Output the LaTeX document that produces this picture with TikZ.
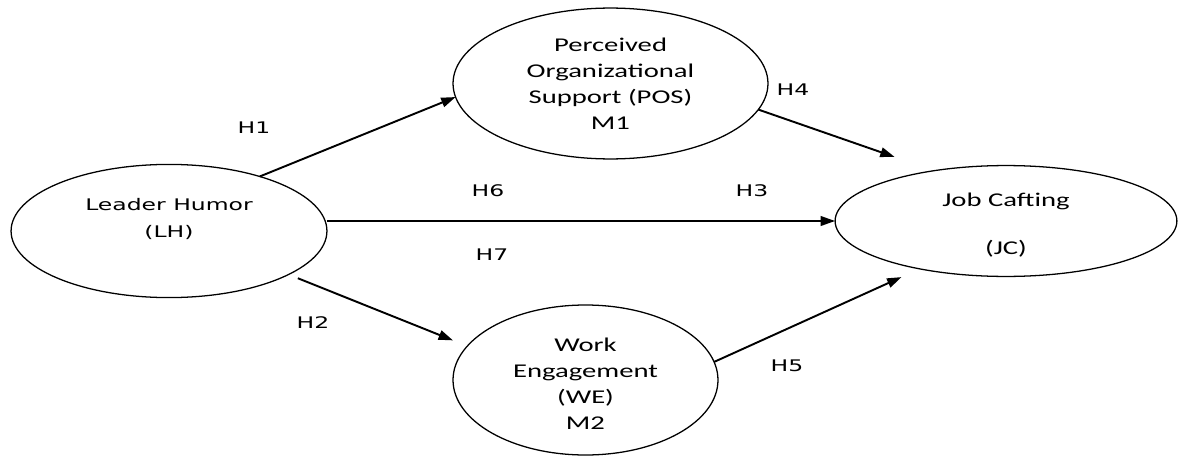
\documentclass[tikz,border=0pt]{standalone}
\usepackage{fontspec}
\setmainfont{Carlito}[FakeStretch=1.47]
\newfontfamily\lhfont{DejaVu Sans}[FakeStretch=1.47]
\usetikzlibrary{arrows.meta,shapes.geometric}

\begin{document}
\begin{tikzpicture}[x=0.022cm, y=-0.022cm, >={Triangle[length=9pt,width=6pt]},
    var/.style={ellipse, draw, line width=0.8pt, outer sep=0pt, inner sep=0pt,
      align=center, font=\fontsize{12.2}{16.2}\selectfont},
    hyp/.style={inner sep=0pt, font=\lhfont\fontsize{10}{12}\selectfont},
    every edge/.style={draw, line width=1.2pt, ->}]
  \useasboundingbox (0,0) rectangle (1178,457);

  \node[var, minimum width=6.95cm, minimum height=2.93cm,
        font=\lhfont\fontsize{10}{16.8}\selectfont] (LH) at (169,231) {Leader Humor\\(LH)\\~};
  \node[var, minimum width=6.93cm, minimum height=3.32cm] (POS) at (610.5,83.5)
        {Perceived\\Organizational\\Support (POS)\\M1};
  \node[var, minimum width=5.83cm, minimum height=3.30cm] (WE) at (585.5,380)
        {\rule{0pt}{13pt}Work\\Engagement\\(WE)\\M2};
  \node[var, minimum width=7.52cm, minimum height=2.44cm] (JC) at (1006,221)
        {\rule{0pt}{14pt}Job Cafting\\[13.7pt](JC)};

  \node[hyp] (H1) at (254,128) {H1};
  \node[hyp] (H2) at (313,323) {H2};
  \node[hyp] (H3) at (752,191) {H3};
  \node[hyp] (H4) at (793,90)  {H4};
  \node[hyp] (H5) at (787,366) {H5};
  \node[hyp] (H6) at (488,191) {H6};
  \node[hyp] (H7) at (492,255) {H7};

  \path (LH.31.5) edge (POS.185)
        (LH.340.2) edge [shorten <=0.22cm, shorten >=0.34cm] (WE.164.4)
        (LH.east |- JC.west) edge (JC.west)
        (POS.350.4) edge [shorten >=0.92cm] (JC.145.6)
        (WE.8) edge [shorten >=0.44cm] (JC.209.8)
        ;
\end{tikzpicture}
\end{document}
